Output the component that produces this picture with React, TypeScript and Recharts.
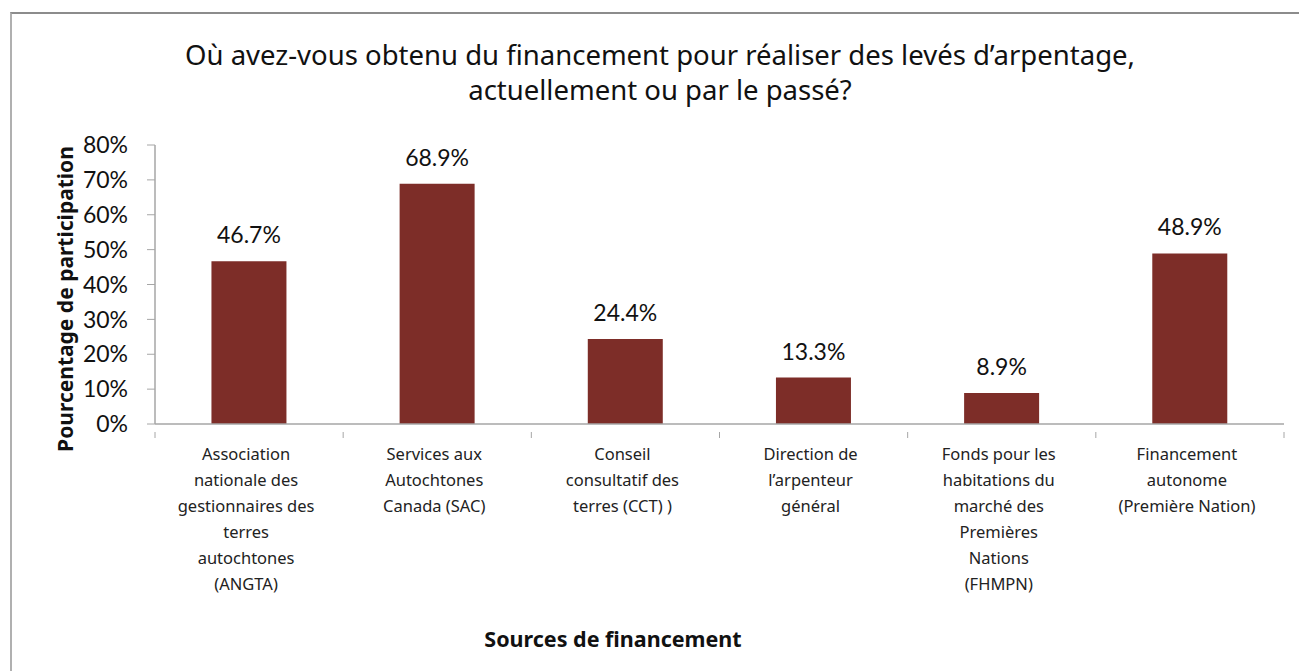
import { Bar, BarChart, LabelList, XAxis, YAxis } from 'recharts'

const categories = [
  'Association\nnationale des\ngestionnaires des\nterres\nautochtones\n(ANGTA)',
  'Services aux\nAutochtones\nCanada (SAC)',
  'Conseil\nconsultatif des\nterres (CCT) )',
  'Direction de\nl’arpenteur\ngénéral',
  'Fonds pour les\nhabitations du\nmarché des\nPremières\nNations\n(FHMPN)',
  'Financement\nautonome\n(Première Nation)',
]
const shares = [46.7, 68.9, 24.4, 13.3, 8.9, 48.9]
const yTicks = [0, 10, 20, 30, 40, 50, 60, 70, 80]

const titleLines = [
  'Où avez-vous obtenu du financement pour réaliser des levés d’arpentage,',
  'actuellement ou par le passé?',
]
const yTitle = 'Pourcentage de participation'
const xTitle = 'Sources de financement'

const data = categories.map((name, i) => ({ name, value: shares[i] }))

const W = 1299
const H = 671
const PLOT_LEFT = 155
const PLOT_RIGHT = 1284
const PLOT_TOP = 145
const PLOT_BOTTOM = 424
const Y_W = 80
const X_H = 200
const AXIS_GRAY = '#a6a6a6'
const BAR = '#7d2d28'
const FONT = 'Lato, "Noto Sans", sans-serif'
const WIDE = '"Noto Sans", sans-serif'

const step = (PLOT_RIGHT - PLOT_LEFT) / categories.length

function CategoryTick(props: any) {
  const { x, y, payload, index } = props
  const lines = String(payload.value).split('\n')
  return (
    <g>
      {/* Excel-style ticks sit between categories, not under them */}
      <line x1={x - step / 2} x2={x - step / 2} y1={y} y2={y + 6} stroke={AXIS_GRAY} />
      {index === categories.length - 1 && (
        <line x1={x + step / 2} x2={x + step / 2} y1={y} y2={y + 6} stroke={AXIS_GRAY} />
      )}
      <text x={x - 3} y={y + 28} textAnchor="middle" fontSize={16.5} fill="#222" fontFamily={WIDE}>
        {lines.map((l, i) => (
          <tspan key={i} x={x - 3} dy={i === 0 ? 0 : 26}>
            {l}
          </tspan>
        ))}
      </text>
    </g>
  )
}

export default function App() {
  return (
    <div style={{ position: 'absolute', left: 0, top: 0, width: W, height: H, overflow: 'hidden', background: '#fff', fontFamily: FONT }}>
      <div style={{ position: 'absolute', left: 10, top: 12, width: W, height: H, borderLeft: '2px solid #b0b0b0', borderTop: '2px solid #8c8c8c' }} />
      <div style={{ position: 'absolute', left: 110, width: 1100, top: 37, textAlign: 'center', fontSize: 27.5, lineHeight: '35px', color: '#111', fontFamily: WIDE, whiteSpace: 'nowrap' }}>
        {titleLines.map((t) => (
          <div key={t}>{t}</div>
        ))}
      </div>
      <div style={{ position: 'absolute', left: 65 - 200, top: 299 - 15, width: 400, height: 30, lineHeight: '30px', textAlign: 'center', transform: 'rotate(-90deg)', fontSize: 21, fontWeight: 700, color: '#111', fontFamily: WIDE }}>
        {yTitle}
      </div>
      <div style={{ position: 'absolute', left: 413, top: 624, width: 400, textAlign: 'center', fontSize: 21.5, fontWeight: 700, color: '#111', fontFamily: WIDE }}>
        {xTitle}
      </div>
      <div style={{ position: 'absolute', left: 0, top: 0 }}>
        <BarChart
          width={W}
          height={H}
          data={data}
          barCategoryGap="30%"
          margin={{ top: PLOT_TOP, right: W - PLOT_RIGHT, left: PLOT_LEFT - Y_W, bottom: H - PLOT_BOTTOM - X_H }}
        >
          <XAxis dataKey="name" interval={0} height={X_H} tickLine={false} axisLine={{ stroke: AXIS_GRAY, strokeWidth: 1.5 }} tick={<CategoryTick />} />
          <YAxis
            width={Y_W}
            domain={[0, 80]}
            ticks={yTicks}
            tickFormatter={(v: number) => `${v}%`}
            tickSize={8}
            tickMargin={19}
            tickLine={{ stroke: AXIS_GRAY }}
            axisLine={{ stroke: AXIS_GRAY, strokeWidth: 1.5 }}
            tick={{ fontSize: 23, fill: '#111', fontFamily: FONT }}
          />
          <Bar dataKey="value" fill={BAR} isAnimationActive={false}>
            <LabelList
              dataKey="value"
              position="top"
              offset={18}
              formatter={(v: any) => `${Number(v).toFixed(1)}%`}
              style={{ fontSize: 23, fill: '#111', fontFamily: FONT }}
            />
          </Bar>
        </BarChart>
      </div>
    </div>
  )
}
